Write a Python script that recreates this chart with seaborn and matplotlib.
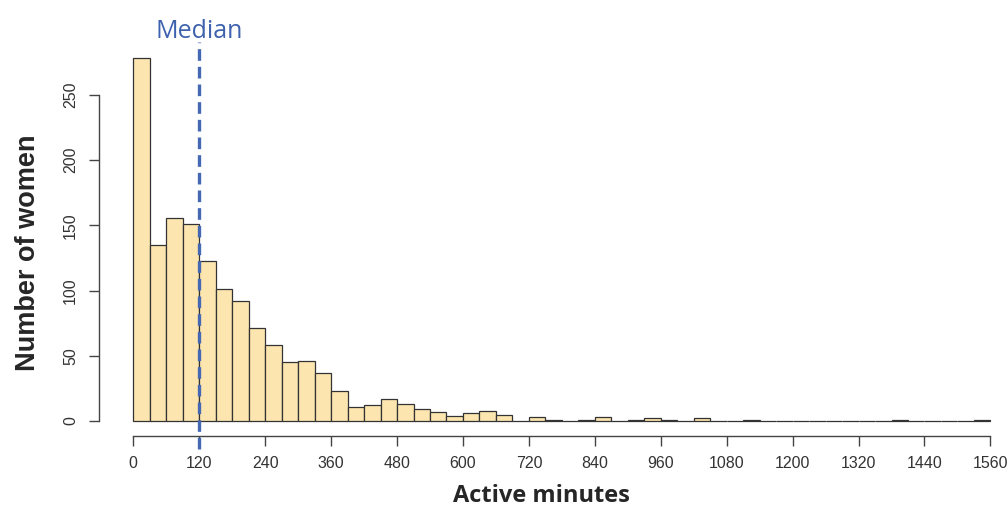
import numpy as np
import pandas as pd
import matplotlib
matplotlib.use("Agg")
import matplotlib.pyplot as plt
import seaborn as sns

# ---- data ----
bin_edges = list(range(0, 1561, 30))
counts = [278, 135, 156, 151, 123, 101, 92, 71, 58, 45, 46, 37, 23, 11, 12,
          17, 13, 9, 7, 4, 6, 8, 5, 0, 3, 1, 0, 1, 3, 0, 1, 2, 1, 0, 2, 0,
          0, 1, 0, 0, 0, 0, 0, 0, 0, 0, 1, 0, 0, 0, 0, 1]
x_ticks = list(range(0, 1561, 120))
y_ticks = [0, 50, 100, 150, 200, 250]
median_value = 120

bin_centers = [(a + b) / 2 for a, b in zip(bin_edges[:-1], bin_edges[1:])]
df = pd.DataFrame({"minutes": bin_centers, "women": counts})

sns.set_style("white")
plt.rcParams["font.family"] = ["Liberation Sans", "DejaVu Sans"]

fig = plt.figure(figsize=(10.08, 5.07), dpi=100)
ax = fig.add_axes([99 / 1008, 71.5 / 507, 909 / 1008, 391.5 / 507])

sns.histplot(data=df, x="minutes", weights="women", bins=bin_edges, ax=ax,
             color="#FDE5B0", alpha=1.0, edgecolor="#333333", linewidth=0.9)

ax.set_xlim(-62.4, 1592)
ax.set_ylim(-11.1, 289.1)
ax.set_xticks(x_ticks)
ax.set_yticks(y_ticks)
ax.set_xlabel("")
ax.set_ylabel("")

for s in ["top", "right"]:
    ax.spines[s].set_visible(False)
ax.spines["left"].set_bounds(0, 250)
ax.spines["bottom"].set_bounds(0, 1560)
for s in ["left", "bottom"]:
    ax.spines[s].set_color("#444444")
    ax.spines[s].set_linewidth(1.0)

ax.tick_params(axis="both", which="major", bottom=True, left=True,
               direction="out", length=7, width=1.0, color="#444444",
               labelcolor="#333333", labelsize=11.5, pad=8)
for lab in ax.get_yticklabels():
    lab.set_rotation(90)
    lab.set_va("center")

# median line
ax.plot([median_value, median_value], [-21.5, 291], color="#4468B2", lw=2.4,
        ls=(0, (3.5, 1.8)), clip_on=False, zorder=5)
ax.text(median_value, 299, "Median", ha="center", va="center", color="#3E62AE",
        fontsize=18, family=["Open Sans", "DejaVu Sans"], clip_on=False)

fig.text(541 / 1008, 1 - 496 / 507, "Active minutes", ha="center", va="center",
         fontsize=17, fontweight="bold", family=["Open Sans", "DejaVu Sans"])
fig.text(28 / 1008, 1 - 253 / 507, "Number of women", ha="center", va="center",
         rotation=90, fontsize=19.5, fontweight="bold",
         family=["Liberation Sans", "DejaVu Sans"])

fig.savefig("out.png", dpi=100)
